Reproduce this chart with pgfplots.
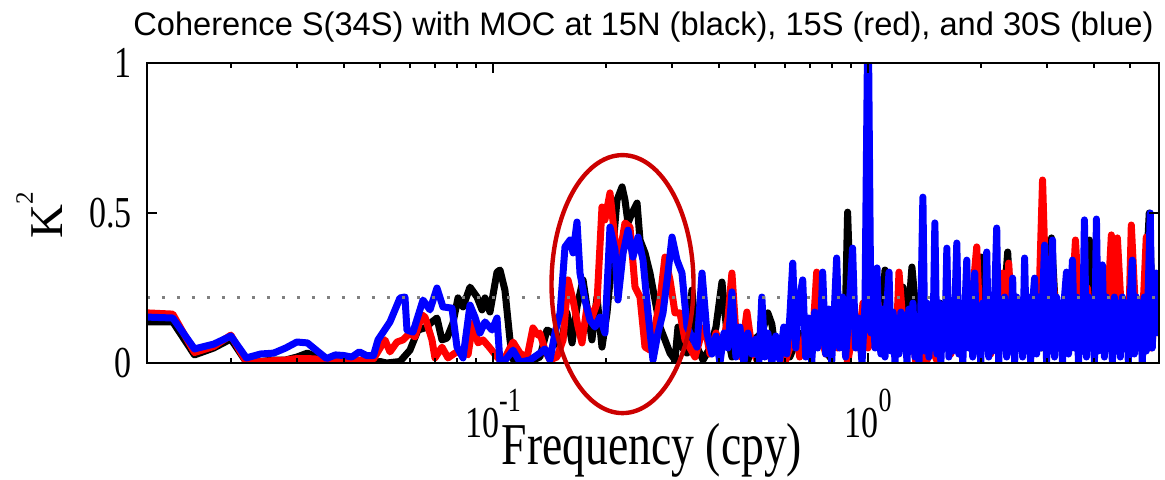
\documentclass[border=0pt]{standalone}
\usepackage{pgfplots}
\pgfplotsset{compat=1.18}
\usepackage{fontspec}
\setmainfont{Liberation Serif}
\newfontfamily\arial{Liberation Sans}
\usepackage{graphicx}
\newcommand\st[1]{\scalebox{1}[1.3]{#1}}
\newcommand\ex[1]{\raisebox{10pt}{\fontsize{13}{13}\selectfont #1}}
\definecolor{ellred}{RGB}{204,0,0}
\tikzset{dl/.style={line width=3.5pt, line join=round, line cap=round}}
\begin{document}
\begin{tikzpicture}
\begin{axis}[
  at={(0,0)}, anchor=south west,
  scale only axis, width=506pt, height=150pt,
  xmode=log, xmin=0.01195, xmax=5.97, ymin=0, ymax=1,
  xtick={0.1,1}, xticklabels={\st{10\ex{-1}},\st{10\ex{0}}},
  minor xtick={0.02,0.03,0.04,0.05,0.06,0.07,0.08,0.09,0.2,0.3,0.4,0.5,0.6,0.7,0.8,0.9,2,3,4,5},
  ytick={0,0.5,1}, yticklabels={\st{0},\st{0.5},\st{1}},
  tick align=inside, tick pos=both,
  major tick length=5pt, minor tick length=2.5pt,
  tick style={black, line width=1pt},
  axis line style={line width=1.2pt},
  tick label style={font=\fontsize{17}{17}\selectfont},
  xticklabel style={anchor=base, inner sep=0pt, yshift=-37pt},
  yticklabel style={anchor=east, inner sep=0pt, xshift=-7.5pt},
  axis on top,
]
\addplot[black, dl] coordinates {(0.012,0.137)(0.014,0.137)(0.016,0.027)(0.018,0.05)(0.020,0.08)(0.022,0.003)(0.024,0.005)(0.026,0.01)(0.028,0.01)(0.030,0.02)(0.032,0.033)(0.034,0.02)(0.036,0.005)(0.038,0.003)(0.040,0.005)(0.042,0.01)(0.044,0.005)(0.046,0)(0.048,0)(0.050,0.005)(0.052,0)(0.05649,0.005)(0.06007,0.043)(0.0631,0.11)(0.06588,0.117)(0.06876,0.137)(0.0709,0.15)(0.07311,0.077)(0.07539,0.083)(0.07822,0.133)(0.08066,0.217)(0.08318,0.187)(0.08684,0.253)(0.09065,0.22)(0.09348,0.177)(0.09521,0.217)(0.09817,0.17)(0.1025,0.303)(0.1044,0.31)(0.1076,0.243)(0.111,0.077)(0.1131,0.01)(0.118,0)(0.1255,0.005)(0.1334,0.02)(0.1393,0.11)(0.1445,0.1)(0.151,0.053)(0.1575,0.167)(0.1625,0.067)(0.1675,0.187)(0.1738,0.277)(0.1836,0.077)(0.1894,0.22)(0.1953,0.053)(0.2014,0.167)(0.2076,0.343)(0.2141,0.543)(0.2209,0.587)(0.2249,0.543)(0.2291,0.467)(0.2348,0.5)(0.2422,0.533)(0.2466,0.41)(0.2543,0.367)(0.2622,0.3)(0.2704,0.21)(0.2788,0.12)(0.2875,0.077)(0.2965,0.033)(0.3057,0.01)(0.3114,0.12)(0.3191,0.053)(0.3291,0.033)(0.3393,0.243)(0.35,0.053)(0.3631,0.01)(0.379,0.05)(0.3932,0.12)(0.4079,0.27)(0.4206,0.1)(0.4336,0.02)(0.4554,0.06)(0.4754,0)(0.4992,0.08)(0.5211,0.1)(0.5406,0.167)(0.554,0.13)(0.5677,0.03)(0.5889,0.08)(0.6185,0.02)(0.6575,0.1)(0.699,0.05)(0.7432,0.12)(0.7901,0.02)(0.84,0.15)(0.8715,0.2)(0.8823,0.503)(0.8985,0.2)(0.9265,0.1)(0.9639,0.15)(1.0,0.25)(1.0311,0.237)(1.0698,0.05)(1.11,0.31)(1.1585,0.1)(1.1946,0.15)(1.2392,0.253)(1.2701,0.1)(1.3095,0.32)(1.3587,0.1)(1.418,0.15)(1.4801,0.05)(1.5543,0.2)(1.6326,0.05)(1.704,0.2)(1.7785,0.05)(1.8677,0.2)(1.9377,0.05)(2.0102,0.353)(2.0858,0.05)(2.177,0.2)(2.2582,0.05)(2.3575,0.37)(2.4305,0.05)(2.5367,0.2)(2.6646,0.05)(2.781,0.2)(2.9026,0.05)(3.0117,0.2)(3.0859,0.417)(3.2018,0.05)(3.3417,0.2)(3.4878,0.05)(3.6628,0.2)(3.894,0.41)(4.04,0.05)(4.243,0.2)(4.4557,0.05)(4.6792,0.2)(4.915,0.05)(5.1612,0.2)(5.3871,0.05)(5.6226,0.5)(5.7626,0.1)(5.98,0.2)};
\addplot[red, dl] coordinates {(0.012,0.167)(0.014,0.163)(0.016,0.035)(0.018,0.055)(0.020,0.093)(0.022,0.003)(0.024,0.005)(0.026,0.008)(0.028,0.01)(0.030,0.015)(0.032,0.015)(0.034,0.013)(0.036,0.01)(0.038,0.01)(0.040,0.005)(0.042,0.008)(0.044,0.01)(0.046,0.01)(0.048,0.013)(0.04906,0.033)(0.05152,0.077)(0.05313,0.037)(0.05546,0.07)(0.05754,0.077)(0.06007,0.1)(0.06194,0.087)(0.06467,0.16)(0.06588,0.153)(0.06876,0.077)(0.07003,0.017)(0.07311,0.053)(0.07586,0.017)(0.07919,0.033)(0.08318,0.043)(0.08577,0.027)(0.08845,0.133)(0.0912,0.067)(0.09405,0.077)(0.09817,0.05)(0.1025,0.02)(0.1063,0.003)(0.1131,0.07)(0.118,0.033)(0.1232,0.017)(0.1278,0.117)(0.1318,0.093)(0.1334,0.1)(0.1376,0.043)(0.1419,0.01)(0.1481,0.02)(0.1538,0.077)(0.1585,0.277)(0.1635,0.21)(0.1686,0.12)(0.1727,0.067)(0.1781,0.187)(0.1836,0.15)(0.1894,0.2)(0.1953,0.52)(0.1989,0.477)(0.2051,0.567)(0.2115,0.41)(0.2182,0.367)(0.2249,0.467)(0.2319,0.453)(0.2392,0.253)(0.2466,0.22)(0.2543,0.053)(0.2622,0.043)(0.2704,0.12)(0.2788,0.21)(0.2875,0.353)(0.2965,0.277)(0.3057,0.167)(0.3152,0.167)(0.3251,0.077)(0.3352,0.05)(0.3457,0.02)(0.3565,0.08)(0.3676,0.12)(0.379,0.03)(0.3932,0.1)(0.4079,0.05)(0.4232,0.15)(0.4336,0.3)(0.4444,0.1)(0.4582,0.02)(0.4754,0.17)(0.4901,0.05)(0.5054,0.01)(0.5243,0.06)(0.5472,0.02)(0.5748,0.08)(0.5998,0)(0.6185,0.05)(0.6417,0.12)(0.6575,0.02)(0.6822,0.1)(0.7076,0.03)(0.7298,0.303)(0.7478,0.1)(0.7711,0.03)(0.7999,0.15)(0.8299,0.05)(0.8556,0.2)(0.8823,0)(0.9096,0.1)(0.938,0.05)(0.9698,0.2)(1.0,0.05)(1.0375,0.1)(1.0633,0.2)(1.1032,0.05)(1.1444,0.1)(1.1873,0.05)(1.2095,0.303)(1.2546,0.05)(1.3015,0.15)(1.342,0)(1.3836,0.1)(1.4267,0)(1.4801,0.05)(1.5357,0)(1.593,0.12)(1.6626,0.03)(1.7251,0.15)(1.7895,0.05)(1.8908,0.2)(1.9499,0.387)(1.9979,0.05)(2.0602,0.2)(2.1241,0.03)(2.204,0.2)(2.2862,0.3)(2.3286,0.05)(2.3721,0.333)(2.4305,0.1)(2.5219,0.2)(2.6158,0.05)(2.7135,0.2)(2.8328,0.05)(2.9205,0.61)(3.0117,0.05)(3.1049,0.3)(3.2216,0.05)(3.3417,0.2)(3.4452,0.05)(3.5744,0.41)(3.7081,0.05)(3.8474,0.25)(3.991,0.05)(4.1654,0.2)(4.2952,0.05)(4.4557,0.427)(4.5386,0.15)(4.6231,0.417)(4.7957,0.05)(4.9746,0.2)(5.0361,0.46)(5.2253,0.05)(5.4204,0.2)(5.5214,0.42)(5.6921,0.05)(5.906,0.2)(5.98,0.1)};
\addplot[blue, dl] coordinates {(0.012,0.153)(0.014,0.15)(0.016,0.047)(0.018,0.063)(0.020,0.09)(0.022,0.017)(0.024,0.03)(0.026,0.033)(0.028,0.05)(0.030,0.07)(0.032,0.067)(0.034,0.04)(0.036,0.015)(0.038,0.027)(0.040,0.025)(0.042,0.02)(0.044,0.037)(0.046,0.025)(0.048,0.025)(0.04936,0.077)(0.05313,0.137)(0.05649,0.217)(0.05825,0.22)(0.05897,0.11)(0.06119,0.103)(0.06507,0.21)(0.06792,0.177)(0.0709,0.25)(0.07356,0.187)(0.07775,0.183)(0.08017,0.053)(0.08318,0.017)(0.08684,0.193)(0.08954,0.153)(0.09233,0.1)(0.09521,0.137)(0.09938,0.11)(0.1025,0.15)(0.1044,0)(0.1063,0)(0.1131,0.043)(0.118,0.003)(0.1255,0.01)(0.1334,0.033)(0.1376,0.047)(0.1419,0.01)(0.1463,0.1)(0.151,0.167)(0.1556,0.387)(0.1605,0.41)(0.1635,0.367)(0.1675,0.47)(0.1706,0.3)(0.1759,0.21)(0.1814,0.143)(0.1871,0.12)(0.1929,0.153)(0.1989,0.1)(0.2051,0.453)(0.2115,0.377)(0.2154,0.21)(0.2223,0.367)(0.2291,0.443)(0.2362,0.353)(0.2436,0.42)(0.2512,0.343)(0.259,0.167)(0.2671,0.01)(0.2754,0.1)(0.284,0.167)(0.2928,0.3)(0.3002,0.42)(0.3095,0.343)(0.3191,0.3)(0.3291,0.12)(0.3393,0.087)(0.35,0.053)(0.3609,0.3)(0.3721,0.1)(0.3837,0.03)(0.3932,0.09)(0.4029,0)(0.4129,0.1)(0.4232,0.05)(0.4336,0.237)(0.4444,0.02)(0.4554,0.12)(0.4667,0)(0.4783,0.1)(0.4901,0.03)(0.5023,0.08)(0.5116,0)(0.5211,0.22)(0.5308,0.02)(0.5406,0.1)(0.554,0)(0.5677,0.09)(0.5817,0.01)(0.5962,0.12)(0.6073,0.03)(0.6185,0.15)(0.63,0.333)(0.6417,0.05)(0.6537,0.2)(0.6697,0.277)(0.6822,0.02)(0.6949,0.15)(0.7076,0)(0.7208,0.17)(0.7342,0.05)(0.7478,0.12)(0.757,0.303)(0.7711,0.03)(0.7855,0.18)(0.7999,0)(0.8148,0.2)(0.8249,0.35)(0.84,0.05)(0.8556,0.22)(0.8715,0.02)(0.8878,0.15)(0.9096,0.383)(0.9265,0.05)(0.9438,0.15)(0.9639,0)(0.9818,0.2)(0.996,1)(1.004,1)
(1.0185,0.10)(1.0311,0.20)(1.0439,0.05)(1.0568,0.317)(1.0699,0.08)(1.0830,0.03)(1.0964,0.18)(1.1100,0.02)(1.1237,0.2)(1.1376,0.303)(1.1514,0.04)(1.1657,0.17)(1.1801,0.0)(1.1947,0.15)(1.2095,0.03)(1.2241,0.17)(1.2392,0.05)(1.2546,0.16)(1.2701,0.0)(1.2858,0.18)(1.3015,0.04)(1.3176,0.2)(1.3339,0.02)(1.3504,0.15)(1.3671,0.0)(1.3836,0.18)(1.4007,0.553)(1.4180,0.04)(1.4356,0.2)(1.4533,0.02)(1.4710,0.18)(1.4892,0.05)(1.5076,0.467)(1.5263,0.03)(1.5452,0.2)(1.5639,0.0)(1.5832,0.17)(1.6028,0.05)(1.6227,0.383)(1.6427,0.02)(1.6626,0.2)(1.6831,0.04)(1.7040,0.18)(1.7251,0.40)(1.7464,0.03)(1.7676,0.2)(1.7895,0.0)(1.8116,0.17)(1.8341,0.343)(1.8568,0.05)(1.8792,0.2)(1.9024,0.02)(1.9260,0.30)(1.9499,0.04)(1.9740,0.18)(1.9979,0.0)(2.0226,0.2)(2.0477,0.05)(2.0730,0.37)(2.0987,0.02)(2.1241,0.18)(2.1504,0.04)(2.1770,0.22)(2.2040,0.45)(2.2312,0.0)(2.2582,0.2)(2.2862,0.05)(2.3144,0.22)(2.3431,0.02)(2.3721,0.2)(2.4008,0.04)(2.4305,0.283)(2.4606,0.0)(2.4911,0.22)(2.5219,0.05)(2.5523,0.2)(2.5839,0.02)(2.6158,0.35)(2.6482,0.04)(2.6810,0.22)(2.7135,0.0)(2.7471,0.2)(2.7811,0.283)(2.8155,0.03)(2.8504,0.22)(2.8849,0.05)(2.9205,0.2)(2.9567,0.393)(2.9933,0.0)(3.0304,0.22)(3.0670,0.04)(3.1049,0.41)(3.1434,0.02)(3.1823,0.22)(3.2217,0.05)(3.2606,0.2)(3.3009,0.0)(3.3418,0.22)(3.3831,0.303)(3.4250,0.03)(3.4664,0.2)(3.5093,0.343)(3.5527,0.05)(3.5967,0.22)(3.6413,0.0)(3.6854,0.2)(3.7309,0.04)(3.7771,0.477)(3.8239,0.02)(3.8712,0.22)(3.9180,0.05)(3.9664,0.2)(4.0156,0.0)(4.0653,0.48)(4.1156,0.04)(4.1654,0.22)(4.2169,0.327)(4.2691,0.02)(4.3220,0.22)(4.3755,0.05)(4.4284,0.2)(4.4832,0.0)(4.5387,0.22)(4.5949,0.04)(4.6517,0.2)(4.7080,0.02)(4.7663,0.22)(4.8253,0.05)(4.8850,0.2)(4.9455,0.0)(5.0052,0.22)(5.0671,0.343)(5.1298,0.03)(5.1934,0.22)(5.2576,0.05)(5.3213,0.2)(5.3871,0.0)(5.4538,0.22)(5.5213,0.04)(5.5896,0.25)(5.6572,0.5)(5.7273,0.05)(5.7981,0.22)(5.8699,0.3)(5.9425,0.1)};
\addplot[gray, line width=1.5pt, line cap=butt, dash pattern=on 1.5pt off 6pt] coordinates {(0.01195,0.22)(5.97,0.22)};
\coordinate (E) at (axis cs:0.2215,0.263);
\end{axis}
\draw[ellred, line width=2.2pt] (E) ellipse [x radius=35.5pt, y radius=64.5pt];
\node[anchor=base, font=\arial\fontsize{16.3}{16.3}\selectfont, inner sep=0pt] at (248.25pt,164pt) {Coherence S(34S) with MOC at 15N (black), 15S (red), and 30S (blue)};
\node[anchor=base, font=\fontsize{22.8}{22.8}\selectfont, inner sep=0pt] at (252.5pt,-50.5pt) {\st{Frequency (cpy)}};
\node[rotate=90, anchor=base, font=\fontsize{23.5}{23.5}\selectfont, inner sep=0pt] at (-42pt,74pt) {K\raisebox{15pt}{\fontsize{12.5}{12.5}\selectfont 2}};
\pgfresetboundingbox
\path (-73.5pt,-58pt) rectangle (509pt,181.5pt);
\end{tikzpicture}
\end{document}
